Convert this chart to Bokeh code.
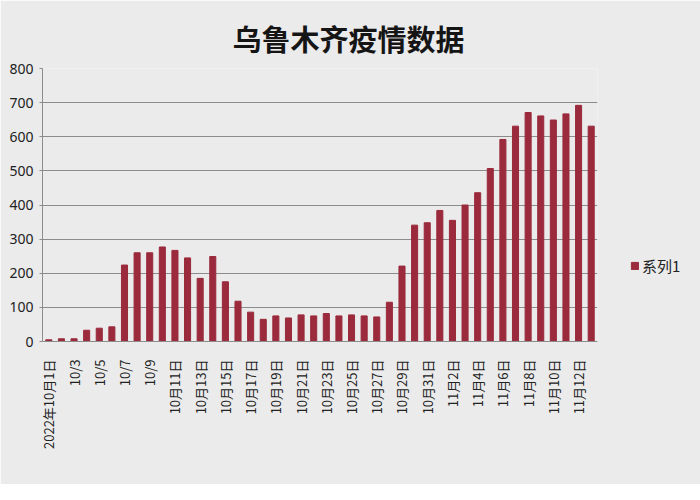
from math import pi
from bokeh.plotting import figure
from bokeh.models import Range1d, FixedTicker
from bokeh.embed import file_html
from bokeh.resources import INLINE

# Daily figures, 2022-10-01 .. 2022-11-13 (day 1 .. day 44)
day_no = list(range(1, 45))
cases = [5, 8, 8, 33, 39, 43, 224, 260, 260, 277, 267, 245, 185, 249, 175, 118,
         86, 65, 75, 69, 78, 75, 82, 75, 78, 75, 72, 115, 221, 341, 348, 384,
         355, 400, 436, 507, 592, 631, 671, 661, 649, 667, 692, 631]
# labels shown on every other day, as in the sheet
tick_labels = ["2022年10月1日", "10/3", "10/5", "10/7", "10/9", "10月11日", "10月13日",
               "10月15日", "10月17日", "10月19日", "10月21日", "10月23日", "10月25日",
               "10月27日", "10月29日", "10月31日", "11月2日", "11月4日", "11月6日",
               "11月8日", "11月10日", "11月12日"]
y_ticks = [0, 100, 200, 300, 400, 500, 600, 700, 800]
series_name = "系列1"

bg = "#ebebeb"
bar_color = "#9a2a3c"
grid_color = "#8c8c8c"

p = figure(x_range=Range1d(0.5, 44.5), y_range=Range1d(0, 800),
           frame_width=555, frame_height=273,
           min_border_left=42, min_border_right=87, min_border_top=68, min_border_bottom=143,
           output_backend="svg", toolbar_location=None, tools="")
p.background_fill_color = bg
p.border_fill_color = bg
p.outline_line_color = None

p.vbar(x=day_no, top=cases, width=0.48, color=bar_color, legend_label=series_name)

# title
p.title.text = "乌鲁木齐疫情数据"
p.title.align = "left"
p.title.offset = 190
p.title.standoff = 20
p.title.text_font = "Noto Sans CJK SC"
p.title.text_font_size = "29px"
p.title.text_font_style = "bold"
p.title.text_color = "#151515"

# y axis
p.yaxis.ticker = y_ticks
p.yaxis.axis_line_color = grid_color
p.yaxis.major_tick_line_color = grid_color
p.yaxis.major_tick_out = 3
p.yaxis.major_tick_in = 0
p.yaxis.minor_tick_line_color = None
p.yaxis.major_label_standoff = 6
p.yaxis.major_label_text_font = "Noto Sans"
p.yaxis.major_label_text_font_size = "14px"
p.yaxis.major_label_text_color = "#222222"
p.ygrid.grid_line_color = grid_color
p.ygrid.grid_line_width = 1

# x axis: every other day labelled
shown = day_no[::2]
p.xaxis.ticker = FixedTicker(ticks=shown)
p.xaxis.major_label_overrides = {d: t for d, t in zip(shown, tick_labels)}
p.xaxis.major_label_orientation = pi / 2
p.xaxis.major_label_standoff = 12
p.xaxis.major_label_text_font = "Noto Sans CJK SC"
p.xaxis.major_label_text_font_size = "13px"
p.xaxis.major_label_text_color = "#222222"
p.xaxis.axis_line_color = grid_color
p.xaxis.major_tick_line_color = None
p.xaxis.minor_tick_line_color = None
p.xgrid.grid_line_color = None

# legend on the right, outside the plot area
legend = p.legend[0]
p.center.remove(legend)
p.add_layout(legend, "right")
legend.location = (33, 65)
legend.background_fill_alpha = 0
legend.border_line_alpha = 0
legend.padding = 0
legend.margin = 0
legend.glyph_width = 9
legend.glyph_height = 9
legend.label_standoff = 3
legend.label_text_font = "Noto Sans CJK SC"
legend.label_text_font_size = "15px"
legend.label_text_color = "#222222"

open("out.html", "w").write(file_html(p, INLINE))
